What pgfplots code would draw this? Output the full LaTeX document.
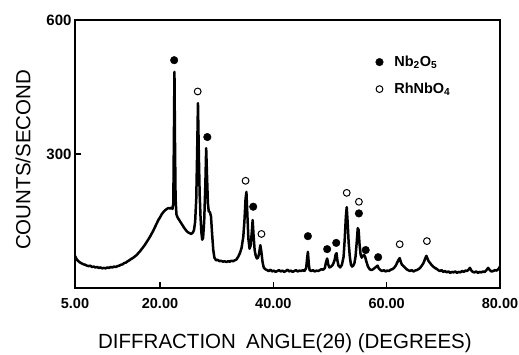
\documentclass[border=0pt]{standalone}
\usepackage{fontspec}
\setmainfont{Liberation Sans}
\usepackage{pgfplots}
\usepackage{pgfplotstable}
\pgfplotsset{compat=1.18}

\pgfplotstableread{
x y
5.0 72
5.3 64
5.6 60
5.9 57
6.2 55
6.5 53
6.8 52
7.1 50
7.4 49
7.7 50
8.0 47
8.3 48
8.6 46
8.9 47
9.2 45
9.5 46
9.8 44
10.1 45
10.4 44
10.7 46
11.0 45
11.3 47
11.6 46
11.9 48
12.2 47
12.5 49
12.8 50
13.1 52
13.4 53
13.7 56
14.0 57
14.3 60
14.6 62
14.9 65
15.2 67
15.5 70
15.8 73
16.1 77
16.4 81
16.7 86
17.0 91
17.3 96
17.6 102
17.9 108
18.2 114
18.5 121
18.8 128
19.1 136
19.4 144
19.7 152
20.0 158
20.3 165
20.6 170
20.9 174
21.2 177
21.5 179
21.8 178
22.0 180
22.2 177
22.35 190
22.45 330
22.55 484
22.65 320
22.75 200
22.9 165
23.1 158
23.4 152
23.7 146
24.0 140
24.3 134
24.6 129
24.9 125
25.2 123
25.5 121
25.8 124
26.0 130
26.2 148
26.4 200
26.55 300
26.7 414
26.85 300
27.0 210
27.15 160
27.3 125
27.45 108
27.6 112
27.8 150
28.0 230
28.15 313
28.3 250
28.45 190
28.6 172
28.8 170
29.0 160
29.2 120
29.4 85
29.6 68
29.9 62
30.2 63
30.5 60
30.8 61
31.1 59
31.4 60
31.7 58
32.0 60
32.3 59
32.6 61
32.9 60
33.2 62
33.5 64
33.8 70
34.1 78
34.4 90
34.7 115
34.9 150
35.1 200
35.25 215
35.4 170
35.6 110
35.8 88
36.0 95
36.2 125
36.35 152
36.5 120
36.7 85
36.9 72
37.1 66
37.3 68
37.5 78
37.7 96
37.9 80
38.1 58
38.3 46
38.6 42
38.9 40
39.2 38
39.5 41
39.8 37
40.1 39
40.4 36
40.7 38
41.0 40
41.3 37
41.6 39
41.9 36
42.2 38
42.5 41
42.8 37
43.1 39
43.4 36
43.7 38
44.0 40
44.3 37
44.6 39
44.9 38
45.2 40
45.5 38
45.8 45
45.95 65
46.1 81
46.25 55
46.4 40
46.7 38
47.0 40
47.3 37
47.6 39
47.9 38
48.2 40
48.5 42
48.8 41
49.1 45
49.3 58
49.5 66
49.7 52
49.9 46
50.2 48
50.5 52
50.8 62
51.0 75
51.15 78
51.3 62
51.5 50
51.8 46
52.1 52
52.4 70
52.6 110
52.8 160
52.95 181
53.1 150
53.3 100
53.5 70
53.7 52
53.9 48
54.1 50
54.3 55
54.5 70
54.7 100
54.9 134
55.05 130
55.2 100
55.4 75
55.6 68
55.8 72
56.0 74
56.2 70
56.4 60
56.7 48
57.0 42
57.3 40
57.6 42
57.9 45
58.2 48
58.4 50
58.6 44
58.9 40
59.2 38
59.5 40
59.8 37
60.1 39
60.4 38
60.7 41
61.0 42
61.3 45
61.6 50
61.9 58
62.1 63
62.3 67
62.5 58
62.7 52
62.9 50
63.2 46
63.5 42
63.8 40
64.1 38
64.4 40
64.7 37
65.0 39
65.3 40
65.6 42
65.9 45
66.2 50
66.5 56
66.8 66
67.0 72
67.2 66
67.4 60
67.6 57
67.9 52
68.2 48
68.5 45
68.8 43
69.1 40
69.4 38
69.7 40
70.0 36
70.3 38
70.6 35
70.9 37
71.2 34
71.5 36
71.8 35
72.1 37
72.4 34
72.7 36
73.0 35
73.3 38
73.6 36
73.9 39
74.2 38
74.5 42
74.7 45
74.9 40
75.2 36
75.5 35
75.8 37
76.1 34
76.4 36
76.7 35
77.0 37
77.3 36
77.6 40
77.9 45
78.2 40
78.5 37
78.8 38
79.1 40
79.4 39
79.7 42
80.0 48
}\spectrum

\pgfplotstableread{
x y
22.5 510
28.35 338
36.45 182
46.1 116
49.5 87
51.1 101
55.1 167
56.3 85
58.5 69
}\nbo

\pgfplotstableread{
x y
26.65 440
35.1 240
37.9 121
52.95 213
55.1 193
62.3 98
67.1 105
}\rhnbo

\begin{document}
\begin{tikzpicture}
\begin{axis}[
  at={(0,0)}, anchor=south west,
  scale only axis,
  width=425pt, height=268pt,
  xmin=5, xmax=80, ymin=0, ymax=600,
  axis line style={line width=1.6pt},
  xtick={5,20,40,60,80},
  xticklabels={5.00,20.00,40.00,60.00,80.00},
  ytick={300,600},
  yticklabels={300,600},
  tick pos=left,
  tick align=inside,
  major tick length=6pt,
  tick style={line width=1.2pt, black},
  xticklabel style={font=\fontsize{14.5}{16}\selectfont\bfseries, yshift=-7pt},
  yticklabel style={font=\fontsize{15}{17}\selectfont\bfseries},
  xlabel={DIFFRACTION\hspace{0.5em}ANGLE(2θ) (DEGREES)},
  ylabel={COUNTS/SECOND},
  xlabel style={font=\fontsize{20.5}{24}\selectfont, at={(axis description cs:0.494,-0.205)}, anchor=center},
  ylabel style={font=\fontsize{20.5}{24}\selectfont, at={(axis description cs:-0.122,0.478)}, anchor=center},
  legend style={draw=none, fill=none, at={(0.70,0.881)}, anchor=north west,
    font=\fontsize{14.5}{16}\selectfont\bfseries, row sep=11pt, column sep=9pt},
  legend cell align=left,
]
\addplot[black, line width=2.5pt, line join=round, forget plot] table[x=x,y=y] {\spectrum};
\addplot[only marks, mark=*, mark size=3.8pt, black] table[x=x,y=y] {\nbo};
\addlegendentry{Nb\textsubscript{2}O\textsubscript{5}}
\addplot[only marks, mark=o, mark size=3.4pt, black, mark options={line width=1pt, fill=white}] table[x=x,y=y] {\rhnbo};
\addlegendentry{RhNbO\textsubscript{4}}
\end{axis}
\pgfresetboundingbox
\path (-75pt,-67pt) rectangle (444pt,288pt);
\end{tikzpicture}
\end{document}
